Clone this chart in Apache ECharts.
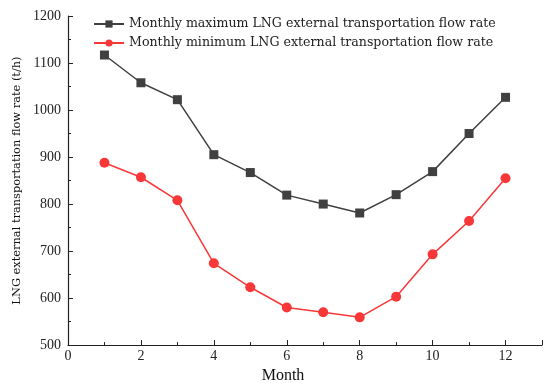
<!DOCTYPE html>
<html><head><meta charset="utf-8">
<script src="https://cdn.jsdelivr.net/npm/echarts@6/dist/echarts.min.js"></script>
<style>html,body{margin:0;padding:0;background:#fff}#c{width:550px;height:389px}</style>
</head><body><div id="c"></div>
<script>
const months = [1,2,3,4,5,6,7,8,9,10,11,12];
const maxFlow = [1117,1058,1022,905,867,819,800,781,820,869,950,1027];
const minFlow = [888,857,808,674,623,580,570,559,603,693,764,855];
const seriesNames = ['Monthly maximum LNG external transportation flow rate','Monthly minimum LNG external transportation flow rate'];
const font = 'Liberation Serif';
const wide = 'DejaVu Serif';
const chart = echarts.init(document.getElementById('c'));
chart.setOption({
  animation:false,
  textStyle:{fontFamily:font},
  grid:{left:68,right:8,top:16,bottom:36,containLabel:false},
  legend:{
    left:93,top:16.5,padding:0,orient:'vertical',itemGap:4,itemWidth:30,itemHeight:9,
    textStyle:{fontFamily:wide,fontSize:12.6,color:'#222',lineHeight:15},
    data:seriesNames
  },
  xAxis:{
    type:'value',min:0,max:13,interval:2,
    name:'Month',nameLocation:'middle',nameGap:17,
    nameTextStyle:{fontFamily:font,fontSize:16,color:'#111',padding:[0,44,0,0]},
    axisLine:{lineStyle:{color:'#222',width:1.2}},
    axisTick:{inside:true,length:5,lineStyle:{color:'#222'}},
    minorTick:{show:true,splitNumber:2,length:3,lineStyle:{color:'#222'}},
    axisLabel:{fontFamily:font,fontSize:14,color:'#222',showMaxLabel:false,margin:4},
    splitLine:{show:false}
  },
  yAxis:{
    type:'value',min:500,max:1200,interval:100,
    name:'LNG external transportation flow rate (t/h)',nameLocation:'middle',nameGap:41,
    nameTextStyle:{fontFamily:wide,fontSize:11.4,color:'#111'},
    axisLine:{show:true,lineStyle:{color:'#222',width:1.2}},
    axisTick:{inside:true,length:5,lineStyle:{color:'#222'}},
    minorTick:{show:true,splitNumber:2,length:3,lineStyle:{color:'#222'}},
    axisLabel:{fontFamily:font,fontSize:14,color:'#222',margin:7,formatter:v=>String(v)},
    splitLine:{show:false}
  },
  series:[
    {name:seriesNames[0],type:'line',data:months.map((m,i)=>[m,maxFlow[i]]),
     symbol:'rect',symbolSize:9,itemStyle:{color:'#404040'},lineStyle:{color:'#404040',width:1.5}},
    {name:seriesNames[1],type:'line',data:months.map((m,i)=>[m,minFlow[i]]),
     symbol:'circle',symbolSize:10,itemStyle:{color:'#f83838'},lineStyle:{color:'#f83838',width:1.5}}
  ]
});
</script></body></html>
